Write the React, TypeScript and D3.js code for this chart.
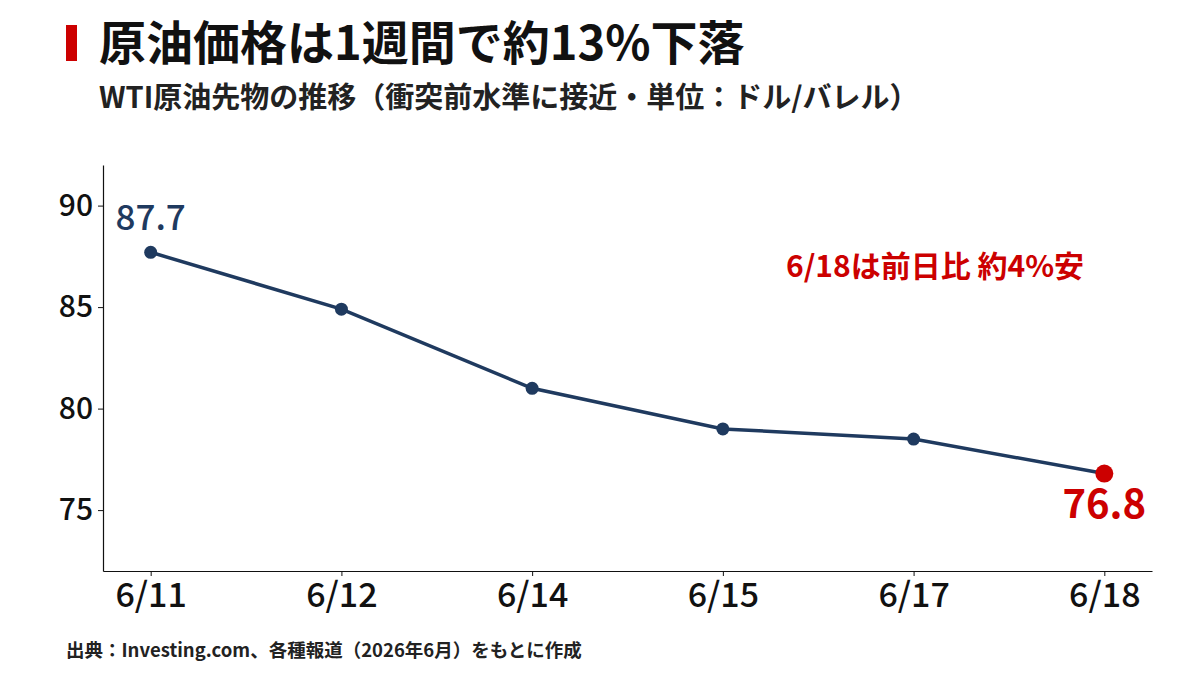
import * as d3 from 'd3';
import { useEffect, useRef } from 'react';

const dates = ['6/11', '6/12', '6/14', '6/15', '6/17', '6/18'];
const prices = [87.7, 84.9, 81.0, 79.0, 78.5, 76.8];
const yTicks = [75, 80, 85, 90];

const NAVY = '#1f3a5f';
const RED = '#cc0000';
const FONT = '"Noto Sans CJK JP", "Noto Sans", sans-serif';

export default function App() {
    const svgRef = useRef<SVGSVGElement>(null);

    useEffect(() => {
        if (!svgRef.current) return;
        const width = 1200;
        const height = 675;
        const margin = { top: 165, right: 48, bottom: 104, left: 103 };

        const svg = d3.select(svgRef.current).attr('width', width).attr('height', height).style('font-family', FONT).style('background', '#fff');
        svg.selectAll('*').remove();

        // title block
        svg.append('rect').attr('x', 66).attr('y', 25).attr('width', 11).attr('height', 36).attr('fill', RED);
        svg.append('text').attr('x', 99).attr('y', 60).attr('font-size', 47).attr('font-weight', 700).attr('fill', '#111').text('原油価格は1週間で約13%下落');
        svg.append('text').attr('x', 99).attr('y', 108).attr('font-size', 29).attr('font-weight', 700).attr('fill', '#222').text('WTI原油先物の推移（衝突前水準に接近・単位：ドル/バレル）');
        svg.append('text').attr('x', 66).attr('y', 657).attr('font-size', 18.5).attr('font-weight', 700).attr('fill', '#222').text('出典：Investing.com、各種報道（2026年6月）をもとに作成');

        const x = d3
            .scalePoint<string>()
            .domain(dates)
            .range([margin.left, width - margin.right])
            .padding(0.25);

        const y = d3
            .scaleLinear()
            .domain([72, 92])
            .range([height - margin.bottom, margin.top]);

        const xAxis = svg
            .append('g')
            .attr('transform', `translate(0,${height - margin.bottom})`)
            .call(d3.axisBottom(x).tickSize(5).tickSizeOuter(0).tickPadding(4));
        xAxis.select('.domain').attr('stroke', '#111').attr('stroke-width', 1.2);
        xAxis.selectAll('.tick line').attr('stroke', '#111');
        xAxis.selectAll('text').attr('fill', '#111').attr('font-size', 34).attr('font-weight', 500).attr('font-family', FONT).attr('dy', '0.8em');

        const yAxis = svg
            .append('g')
            .attr('transform', `translate(${margin.left},0)`)
            .call(d3.axisLeft(y).tickValues(yTicks).tickSize(5).tickSizeOuter(0).tickPadding(5));
        yAxis.select('.domain').attr('stroke', '#111').attr('stroke-width', 1.2);
        yAxis.selectAll('.tick line').attr('stroke', '#111');
        yAxis.selectAll('text').attr('fill', '#111').attr('font-size', 30).attr('font-weight', 500).attr('font-family', FONT);

        const pts = dates.map((d, i) => ({ d, v: prices[i] }));
        const line = d3
            .line<{ d: string; v: number }>()
            .x((p) => x(p.d)!)
            .y((p) => y(p.v));

        svg.append('path').datum(pts).attr('d', line).attr('fill', 'none').attr('stroke', NAVY).attr('stroke-width', 3.5);

        svg.selectAll('circle.pt')
            .data(pts)
            .join('circle')
            .attr('class', 'pt')
            .attr('cx', (p) => x(p.d)!)
            .attr('cy', (p) => y(p.v))
            .attr('r', (p, i) => (i === pts.length - 1 ? 9 : 6.5))
            .attr('fill', (p, i) => (i === pts.length - 1 ? RED : NAVY));

        const first = pts[0];
        const last = pts[pts.length - 1];
        svg.append('text')
            .attr('x', x(first.d)!)
            .attr('y', y(first.v) - 22)
            .attr('text-anchor', 'middle')
            .attr('font-size', 35)
            .attr('font-weight', 500)
            .attr('fill', NAVY)
            .text(first.v.toFixed(1));
        svg.append('text')
            .attr('x', x(last.d)!)
            .attr('y', y(last.v) + 44)
            .attr('text-anchor', 'middle')
            .attr('font-size', 40)
            .attr('font-weight', 700)
            .attr('fill', RED)
            .text(last.v.toFixed(1));

        svg.append('text').attr('x', 935).attr('y', 277).attr('text-anchor', 'middle').attr('font-size', 30).attr('font-weight', 700).attr('fill', RED).text('6/18は前日比 約4%安');
    }, []);

    return <svg ref={svgRef} style={{ position: 'absolute', left: 0, top: 0 }} />;
}
